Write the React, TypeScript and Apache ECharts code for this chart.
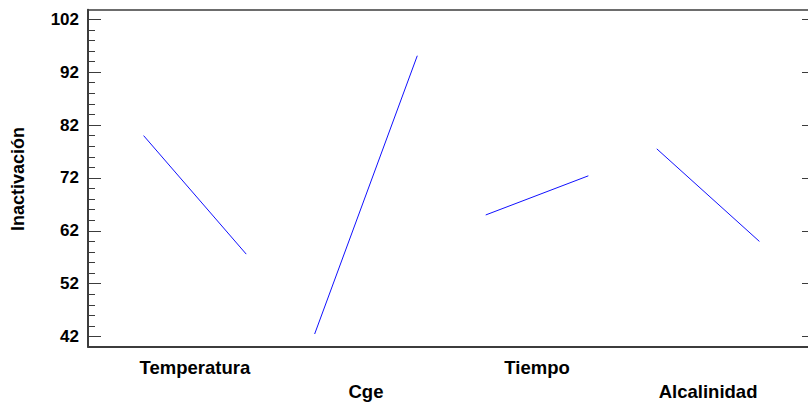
import React, { useEffect, useRef } from "react";
import * as echarts from "echarts";

// Main effects: mean response at the low and high level of each factor
const factors = ["Temperatura", "Cge", "Tiempo", "Alcalinidad"];
const lowLevelMeans = [80.0, 42.5, 65.0, 77.5];
const highLevelMeans = [57.6, 95.1, 72.4, 60.0];

const yMajorTicks = [42, 52, 62, 72, 82, 92, 102];
const yMinorTicks = [
  44, 46, 48, 50, 54, 56, 58, 60, 64, 66, 68, 70, 74, 76, 78, 80, 84, 86, 88, 90,
  94, 96, 98, 100,
];
const factorPositions = [1, 2, 3, 4];

const FONT = "'Liberation Sans', Arial, Helvetica, sans-serif";
const AXIS_COLOR = "#3c3c3c";

export default function App() {
  const ref = useRef<HTMLDivElement>(null);

  useEffect(() => {
    if (!ref.current) return;
    const chart = echarts.init(ref.current, undefined, { renderer: "svg" });

    const halfSpan = 0.3;
    const series = factors.map((name, i) => ({
      type: "line",
      name,
      xAxisIndex: 0,
      yAxisIndex: 0,
      symbol: "none",
      silent: true,
      lineStyle: { color: "#1010ff", width: 1 },
      data: [
        [factorPositions[i] - halfSpan, lowLevelMeans[i]],
        [factorPositions[i] + halfSpan, highLevelMeans[i]],
      ],
    }));

    const yRange = { min: 40.1, max: 103.8 };

    chart.setOption({
      animation: false,
      backgroundColor: "#ffffff",
      grid: {
        left: 88,
        top: 9.7,
        width: 727,
        height: 337,
        containLabel: false,
        outerBoundsMode: "none",
      },
      xAxis: [
        {
          type: "value",
          position: "bottom",
          min: 0.375,
          max: 4.625,
          axisLine: { show: true, lineStyle: { color: AXIS_COLOR, width: 2 } },
          axisTick: { show: false },
          splitLine: { show: false },
          axisLabel: {
            customValues: factorPositions,
            margin: 9.5,
            fontFamily: FONT,
            fontSize: 18.5,
            fontWeight: "bold",
            color: "#000",
            lineHeight: 23.5,
            formatter: (v: number) => {
              const i = Math.round(v) - 1;
              const name = factors[i] ?? "";
              return i % 2 === 0 ? name : "\n" + name;
            },
          },
        },
        {
          type: "value",
          position: "top",
          min: 0.375,
          max: 4.625,
          axisLine: { show: true, lineStyle: { color: AXIS_COLOR, width: 1.5 } },
          axisTick: { show: false },
          axisLabel: { show: false },
          splitLine: { show: false },
        },
      ],
      yAxis: [
        {
          type: "value",
          position: "left",
          ...yRange,
          axisLine: { show: true, lineStyle: { color: AXIS_COLOR, width: 2 } },
          axisTick: {
            show: true,
            inside: true,
            length: 13,
            customValues: yMajorTicks,
            lineStyle: { color: AXIS_COLOR, width: 1 },
          },
          axisLabel: {
            customValues: yMajorTicks,
            margin: 9,
            fontFamily: FONT,
            fontSize: 17,
            fontWeight: "bold",
            color: "#000",
          },
          splitLine: { show: false },
        },
        {
          type: "value",
          position: "left",
          ...yRange,
          axisLine: { show: false },
          axisTick: {
            show: true,
            inside: true,
            length: 7,
            customValues: yMinorTicks,
            lineStyle: { color: AXIS_COLOR, width: 1 },
          },
          axisLabel: { show: false },
          splitLine: { show: false },
        },
        {
          type: "value",
          position: "right",
          ...yRange,
          axisLine: { show: false },
          axisTick: {
            show: true,
            inside: true,
            length: 13,
            customValues: yMajorTicks,
            lineStyle: { color: AXIS_COLOR, width: 1 },
          },
          axisLabel: { show: false },
          splitLine: { show: false },
        },
      ],
      graphic: [
        {
          type: "text",
          x: 18,
          y: 179,
          rotation: Math.PI / 2,
          style: {
            text: "Inactivación",
            fontFamily: FONT,
            fontSize: 18,
            fontWeight: "bold",
            fill: "#000",
            textAlign: "center",
            textVerticalAlign: "middle",
          },
        },
      ],
      series,
    });

    return () => chart.dispose();
  }, []);

  return (
    <div
      ref={ref}
      style={{
        position: "fixed",
        left: 0,
        top: 0,
        width: 808,
        height: 402,
        overflow: "hidden",
        background: "#fff",
      }}
    />
  );
}
